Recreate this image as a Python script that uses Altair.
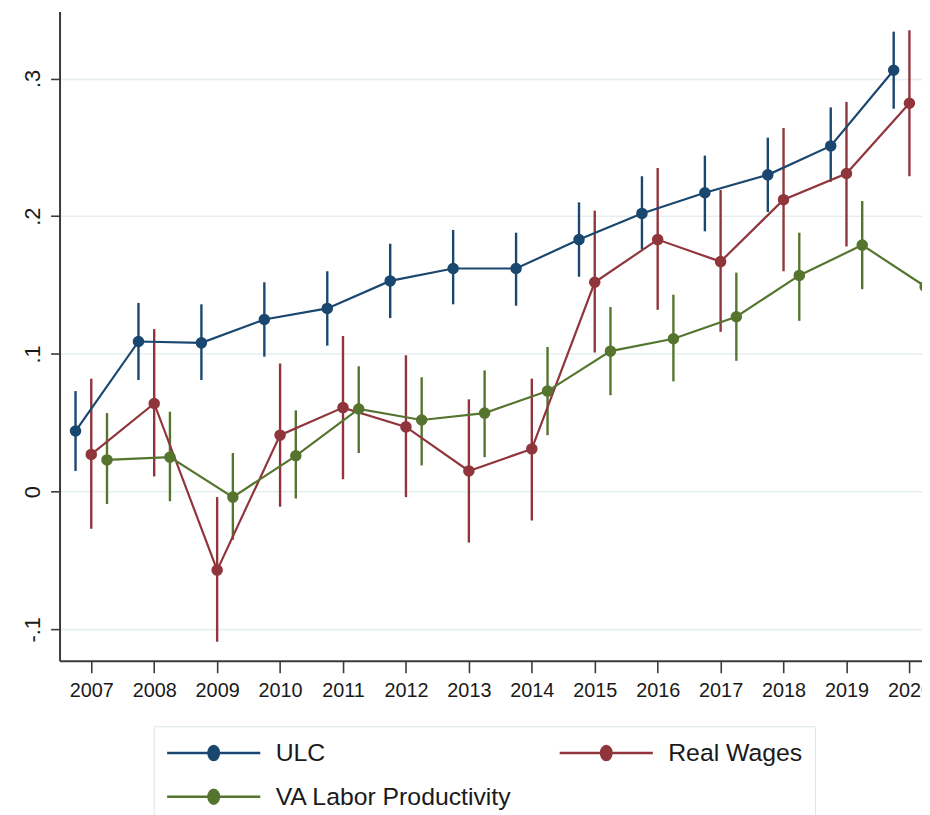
import altair as alt
import pandas as pd

years = list(range(2007, 2021))
series = ["ULC", "Real Wages", "VA Labor Productivity"]
colors = ["#1a476f", "#90353b", "#55752f"]

ulc = [0.044, 0.109, 0.108, 0.125, 0.133, 0.153, 0.162, 0.162, 0.183, 0.202, 0.217, 0.230, 0.251, 0.306]
ulc_lo = [0.015, 0.081, 0.081, 0.098, 0.106, 0.126, 0.136, 0.135, 0.156, 0.176, 0.189, 0.203, 0.225, 0.278]
ulc_hi = [0.073, 0.137, 0.136, 0.152, 0.160, 0.180, 0.190, 0.188, 0.210, 0.229, 0.244, 0.257, 0.279, 0.334]

rw = [0.027, 0.064, -0.057, 0.041, 0.061, 0.047, 0.015, 0.031, 0.152, 0.183, 0.167, 0.212, 0.231, 0.282]
rw_lo = [-0.027, 0.011, -0.109, -0.011, 0.009, -0.004, -0.037, -0.021, 0.101, 0.132, 0.116, 0.160, 0.178, 0.229]
rw_hi = [0.082, 0.118, -0.004, 0.093, 0.113, 0.099, 0.067, 0.082, 0.204, 0.235, 0.219, 0.264, 0.283, 0.335]

va = [0.023, 0.025, -0.004, 0.026, 0.060, 0.052, 0.057, 0.073, 0.102, 0.111, 0.127, 0.157, 0.179, 0.149]
va_lo = [-0.009, -0.007, -0.035, -0.005, 0.028, 0.019, 0.025, 0.041, 0.070, 0.080, 0.095, 0.124, 0.147, 0.117]
va_hi = [0.057, 0.058, 0.028, 0.059, 0.091, 0.083, 0.088, 0.105, 0.134, 0.143, 0.159, 0.188, 0.211, 0.181]

y_ticks = [-0.1, 0.0, 0.1, 0.2, 0.3]

rows = []
for name, est, lo, hi in [("ULC", ulc, ulc_lo, ulc_hi),
                          ("Real Wages", rw, rw_lo, rw_hi),
                          ("VA Labor Productivity", va, va_lo, va_hi)]:
    for yr, e, l, h in zip(years, est, lo, hi):
        rows.append({"series": name, "year": yr, "est": e, "lo": l, "hi": h})
df = pd.DataFrame(rows)

FONT = "Liberation Sans Narrow, Arial Narrow, Liberation Sans, Arial, sans-serif"

base = alt.Chart(df).transform_calculate(
    xpos="datum.year + (datum.series === 'ULC' ? -0.25 : (datum.series === 'Real Wages' ? 0 : 0.25))"
)

xscale = alt.Scale(domain=[2006.496, 2020.2], nice=False, zero=False)
yscale = alt.Scale(domain=[-0.1229, 0.3486], nice=False, zero=False)

xaxis = alt.Axis(values=years, format="d", title=None, grid=False, tickSize=12,
                 labelPadding=8, labelFontSize=20, labelFlush=False, labelOverlap=False)
yaxis = alt.Axis(values=y_ticks, title=None, grid=True, gridColor="#e6eff0", gridWidth=1.6,
                 tickSize=9, labelAngle=270, labelAlign="center", labelBaseline="alphabetic",
                 labelPadding=11, labelFontSize=22, labelOverlap=False,
                 labelExpr="datum.value == 0 ? '0' : (datum.value < 0 ? '-' : '') + replace(format(abs(datum.value), '.1f'), '0.', '.')")

stroke_scale = alt.Scale(domain=series, range=colors)
fill_scale = alt.Scale(domain=series, range=colors)

LEG_X = 95
LEG_Y = 721

legend = alt.Legend(
    title=None, orient="none", legendX=LEG_X, legendY=LEG_Y, columns=2, direction="horizontal",
    symbolType="M-1,0L1,0M-0.112,0A0.112,0.15,0,1,0,0.112,0A0.112,0.15,0,1,0,-0.112,0Z",
    symbolSize=8836, symbolStrokeWidth=2.5, clipHeight=30,
    labelFontSize=25, labelFont=FONT, labelColor="#1a1a1a", labelOffset=14,
    columnPadding=46, rowPadding=14, padding=12, strokeColor="#dbe6e6",
    labelLimit=500,
)

rules = base.mark_rule(strokeWidth=2.4).encode(
    x=alt.X("xpos:Q", scale=xscale, axis=xaxis),
    y=alt.Y("lo:Q", scale=yscale, axis=yaxis),
    y2="hi:Q",
    stroke=alt.Stroke("series:N", scale=stroke_scale, legend=legend),
)

lines = base.mark_line(strokeWidth=2.2).encode(
    x=alt.X("xpos:Q", scale=xscale, axis=xaxis),
    y=alt.Y("est:Q", scale=yscale, axis=yaxis),
    stroke=alt.Stroke("series:N", scale=stroke_scale, legend=legend),
)

points = base.mark_circle(size=135, opacity=1).encode(
    x=alt.X("xpos:Q", scale=xscale, axis=xaxis),
    y=alt.Y("est:Q", scale=yscale, axis=yaxis),
    fill=alt.Fill("series:N", scale=fill_scale, legend=legend),
)

chart = alt.layer(rules, lines, points).properties(
    width=870, height=655,
    padding={"left": 52, "top": 0, "right": 0, "bottom": 160},
    autosize=alt.AutoSizeParams(type="none"),
    background="white",
).configure_view(stroke=None).configure_axis(
    domainColor="#3a3a3a", domainWidth=2, tickColor="#3a3a3a", tickWidth=1.6,
    labelColor="#1a1a1a", labelFont=FONT,
).configure_legend(labelFont=FONT)

chart.save("out.html", embed_options={"renderer": "svg", "actions": False})
